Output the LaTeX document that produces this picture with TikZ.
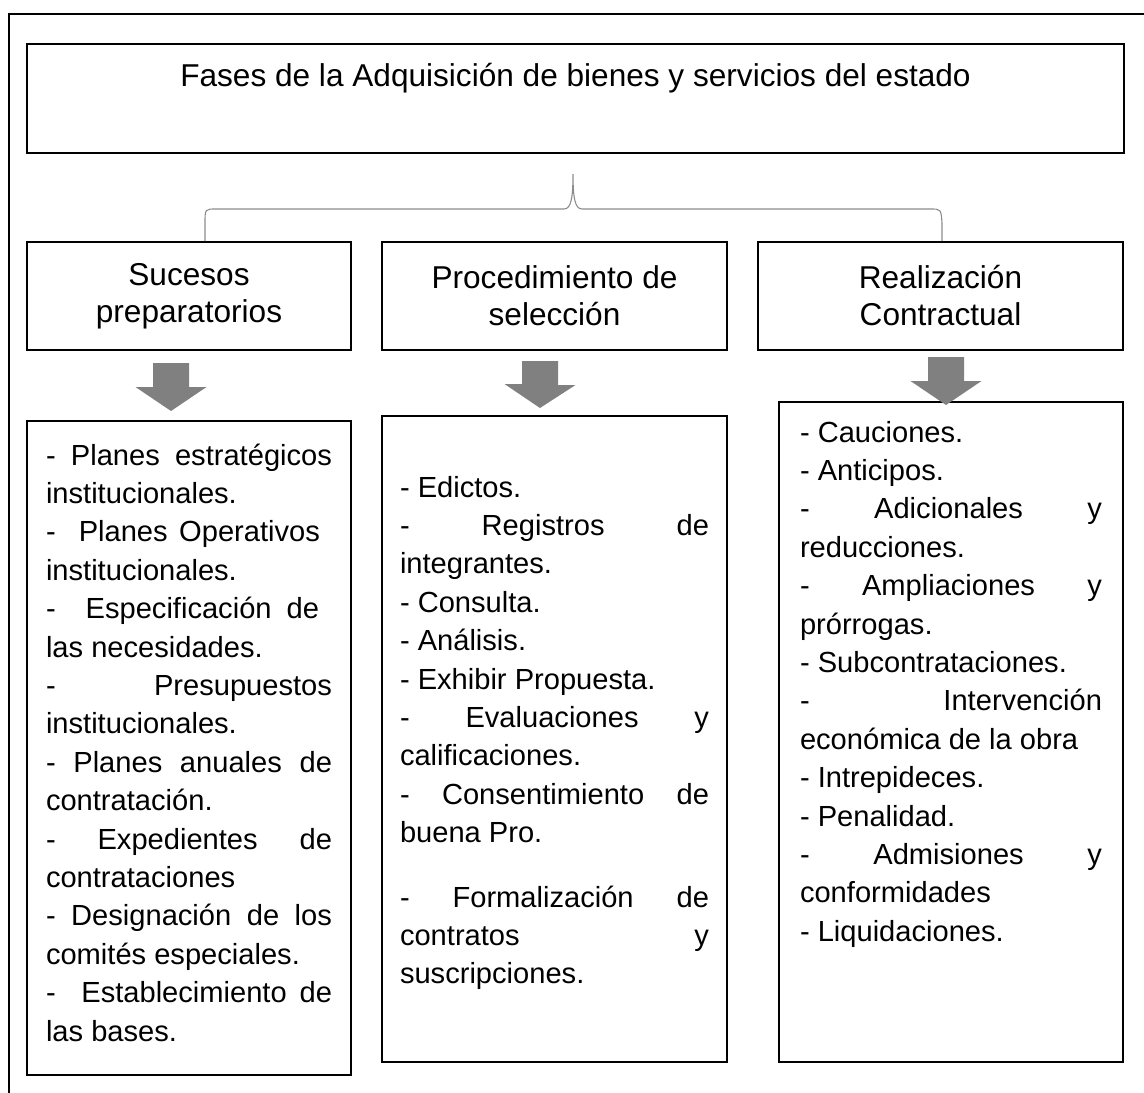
\documentclass[tikz,border=0pt]{standalone}
\usepackage{fontspec}
\setmainfont{Liberation Sans}
% renglon justificado
\newcommand{\justa}[2][\linewidth]{\makebox[#1][s]{#2}}
\tikzset{
	caja/.style={draw, line width=1.8pt, inner sep=0pt},
	fase/.style={caja, align=center, minimum height=108pt, font=\fontsize{31.6}{37}\selectfont},
	lista/.style={caja, inner xsep=#1, font=\fontsize{29.1}{38.4}\selectfont},
	flecha/.style={fill=black!50},
	llave/.style={draw=black!45, line width=1.1pt},
}
\begin{document}
\begin{tikzpicture}[x=1pt, y=-1pt]
	\useasboundingbox (0,0) rectangle (1144,1093);
	\draw[line width=1.8pt] (9,1093) |- (1144,14);
	% titulo
	\node[caja, font=\fontsize{31.6}{37}\selectfont] (titulo) at (575.5,98.5)
		{\parbox[c][109pt][t]{1097pt}{\centering\rule{0pt}{42pt}Fases de la Adquisición de bienes y servicios del estado}};
	% fases
	\node[fase, minimum width=324pt] (fase1) at (189,296) {Sucesos\\preparatorios};
	\node[fase, minimum width=345pt] (fase2) at (554.5,296) {Procedimiento de\\selección};
	\node[fase, minimum width=365pt] (fase3) at (940.5,296) {Realización\\Contractual};
	% llave
	\coordinate (llaveI) at (fase1.north -| 205,0);
	\coordinate (llaveD) at (fase3.north -| 942,0);
	\coordinate (pico) at (573,174);
	\draw[llave] (llaveI) -- (205,223) .. controls (205,209) .. (216,209) -- (564,209)
		.. controls (571,209) and (573,198) .. (pico)
		.. controls (573,198) and (575,209) .. (582,209) -- (930,209)
		.. controls (941,209) .. (942,223) -- (llaveD);
	% listas
	\node[lista=19pt] (lista1) at (189,748) {\parbox[c][654pt][t]{286pt}{\raggedright
		\rule{0pt}{44pt}\justa{- Planes estratégicos}\\
		institucionales.\\
		\justa[274pt]{-\ \ Planes Operativos}\\
		institucionales.\\
		\justa[273pt]{-\ \ Especificación de}\\
		las necesidades.\\
		\justa{- Presupuestos}\\
		institucionales.\\
		\justa{- Planes anuales de}\\
		contratación.\\
		\justa{- Expedientes de}\\
		contrataciones\\
		\justa{- Designación de los}\\
		comités especiales.\\
		\justa{-\ \ Establecimiento de}\\
		las bases.}};
	\node[lista=18pt] (lista2) at (554.5,739) {\parbox[c][646pt][t]{309pt}{\raggedright
		\rule{0pt}{81pt}- Edictos.\\
		\justa{- Registros de}\\
		integrantes.\\
		- Consulta.\\
		- Análisis.\\
		- Exhibir Propuesta.\\
		\justa{- Evaluaciones y}\\
		calificaciones.\\
		\justa{- Consentimiento de}\\
		buena Pro.\\[26pt]
		\justa{- Formalización de}\\
		\justa{contratos y}\\
		suscripciones.}};
	\node[lista=21pt] (lista3) at (951,732) {\parbox[c][660pt][t]{302pt}{\raggedright
		\rule{0pt}{40pt}- Cauciones.\\
		- Anticipos.\\
		\justa{- Adicionales y}\\
		reducciones.\\
		\justa{- Ampliaciones y}\\
		prórrogas.\\
		- Subcontrataciones.\\
		\justa{- Intervención}\\
		económica de la obra\\
		- Intrepideces.\\
		- Penalidad.\\
		\justa{- Admisiones y}\\
		conformidades\\
		- Liquidaciones.}};
	% flechas
	\coordinate (a1) at (171,363);
	\coordinate (b1) at (171,411);
	\coordinate (a2) at (540,361);
	\coordinate (b2) at (540,408);
	\coordinate (a3) at (946,357);
	\coordinate (b3) at (946,405);
	\foreach \a/\b in {a1/b1,a2/b2,a3/b3}
		\fill[flecha] (\a) ++(-18,0) -- ++(36,0) -- ++(0,24) -- ++(17.5,0) -- (\b) -- ++(-35.5,-24) -- ++(17.5,0) -- cycle;
\end{tikzpicture}
\end{document}
